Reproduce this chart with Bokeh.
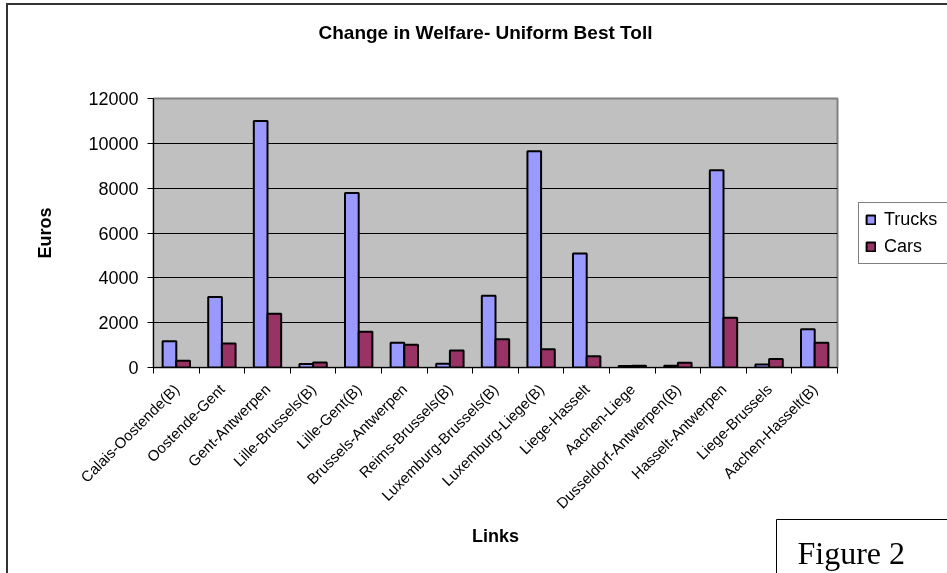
import math
from bokeh.plotting import figure
from bokeh.models import (ColumnDataSource, FixedTicker, Range1d, Title,
                          Legend, LegendItem)
from bokeh.transform import dodge
from bokeh.embed import file_html
from bokeh.resources import INLINE

links = ["Calais-Oostende(B)", "Oostende-Gent", "Gent-Antwerpen", "Lille-Brussels(B)",
         "Lille-Gent(B)", "Brussels-Antwerpen", "Reims-Brussels(B)", "Luxemburg-Brussels(B)",
         "Luxemburg-Liege(B)", "Liege-Hasselt", "Aachen-Liege", "Dusseldorf-Antwerpen(B)",
         "Hasselt-Antwerpen", "Liege-Brussels", "Aachen-Hasselt(B)"]
trucks = [1170, 3150, 11000, 160, 7780, 1100, 170, 3200, 9650, 5080, 70, 80, 8800, 130, 1710]
cars = [300, 1070, 2400, 220, 1600, 1020, 760, 1265, 810, 500, 80, 210, 2220, 380, 1100]
y_ticks = [0, 2000, 4000, 6000, 8000, 10000, 12000]

FONT = "Liberation Sans"

pos = list(range(1, len(links) + 1))
src = ColumnDataSource(dict(pos=pos, trucks=trucks, cars=cars))

chart_title = Title(text="Change in Welfare- Uniform Best Toll", align="left",
                    vertical_align="bottom", offset=165, standoff=-40,
                    padding=dict(left=0, right=0, top=0, bottom=76),
                    text_font=FONT, text_font_size="19px", text_font_style="bold",
                    text_color="black")

# canvas placed at (8, 5) of the page, framed by a dark border on left/top
p = figure(frame_width=684, frame_height=269, output_backend="svg", toolbar_location=None,
           x_range=Range1d(0.5, len(links) + 0.5), y_range=Range1d(0, 12000),
           min_border_left=145, min_border_right=125, min_border_top=93,
           min_border_bottom=215, title=chart_title)
p.styles = {"position": "fixed", "left": "6px", "top": "3px",
            "border-left": "2px solid #333333", "border-top": "2px solid #333333"}
p.background_fill_color = "#C0C0C0"
p.border_fill_color = "white"
p.outline_line_color = "#808080"
p.outline_line_width = 2

r1 = p.vbar(x=dodge("pos", -0.15, range=p.x_range), top="trucks", width=0.3, source=src,
            fill_color="#9999FF", line_color="black", line_width=2)
r2 = p.vbar(x=dodge("pos", 0.15, range=p.x_range), top="cars", width=0.3, source=src,
            fill_color="#993366", line_color="black", line_width=2)

# x axis
p.xgrid.visible = False
p.xaxis.ticker = FixedTicker(ticks=pos, minor_ticks=[i + 0.5 for i in range(len(links) + 1)])
p.xaxis.major_label_overrides = {i + 1: name for i, name in enumerate(links)}
p.xaxis.major_label_orientation = math.pi / 4
p.xaxis.major_tick_out = 0
p.xaxis.major_tick_in = 0
p.xaxis.minor_tick_out = 6
p.xaxis.minor_tick_in = 0
p.xaxis.minor_tick_line_color = "black"
p.xaxis.axis_line_color = "black"
p.xaxis.major_label_text_font = FONT
p.xaxis.major_label_text_font_size = "15px"
p.xaxis.major_label_text_color = "black"
p.xaxis.major_label_standoff = 13
p.xaxis.axis_label = "Links"
p.xaxis.axis_label_text_font = FONT
p.xaxis.axis_label_text_font_size = "18px"
p.xaxis.axis_label_text_font_style = "bold"
p.xaxis.axis_label_text_color = "black"
p.xaxis.axis_label_standoff = 5

# y axis
p.yaxis.ticker = FixedTicker(ticks=y_ticks)
p.yaxis.major_tick_out = 6
p.yaxis.major_tick_in = 0
p.yaxis.minor_tick_out = 0
p.yaxis.minor_tick_in = 0
p.yaxis.major_tick_line_color = "black"
p.yaxis.axis_line_color = "black"
p.yaxis.major_label_text_font = FONT
p.yaxis.major_label_text_font_size = "18px"
p.yaxis.major_label_text_color = "black"
p.yaxis.major_label_standoff = 9
p.yaxis.axis_label = "Euros"
p.yaxis.axis_label_text_font = FONT
p.yaxis.axis_label_text_font_size = "18px"
p.yaxis.axis_label_text_font_style = "bold"
p.yaxis.axis_label_text_color = "black"
p.yaxis.axis_label_standoff = 30
p.ygrid.ticker = FixedTicker(ticks=y_ticks)
p.ygrid.grid_line_color = "black"
p.ygrid.grid_line_width = 1

# legend in the right-hand panel
legend = Legend(items=[LegendItem(label="Trucks", renderers=[r1]),
                       LegendItem(label="Cars", renderers=[r2])],
                location=(21, 103), margin=0, padding=6, spacing=6,
                glyph_width=11, glyph_height=11, label_standoff=8,
                label_height=20, label_width=80,
                label_text_font=FONT, label_text_font_size="18px",
                label_text_color="black",
                border_line_color="black", border_line_width=1,
                background_fill_color="white", background_fill_alpha=1)
p.add_layout(legend, "right")

fig_note = Title(text="Figure 2", align="left", vertical_align="bottom",
                 offset=623, standoff=-64,
                 padding=dict(left=21, right=50, top=15, bottom=10),
                 text_font="Liberation Serif", text_font_size="32px",
                 text_font_style="normal", text_color="black",
                 border_line_color="black", border_line_width=1,
                 background_fill_color="white")
p.add_layout(fig_note, "below")

open("out.html", "w").write(file_html(p, INLINE))
